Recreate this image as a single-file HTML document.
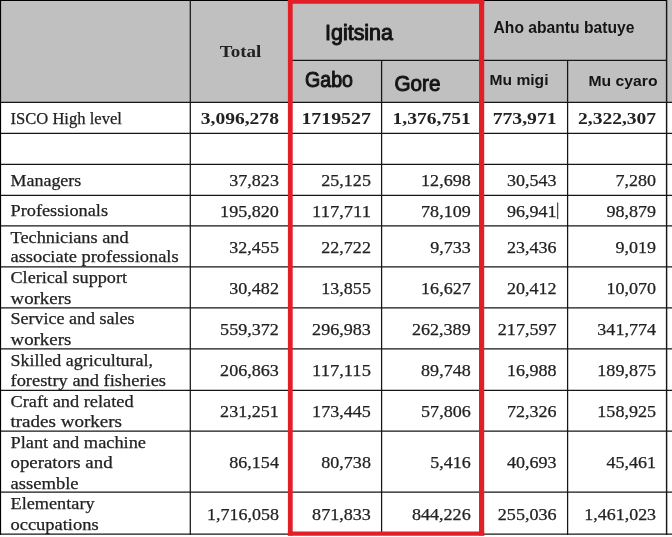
<!DOCTYPE html>
<html><head><meta charset="utf-8">
<style>
html,body{margin:0;padding:0;background:#fff;}
body{width:672px;height:537px;overflow:hidden;}
svg{display:block;}
text{fill:#222;}
.s{font-family:"Liberation Serif","DejaVu Serif",serif;font-size:16.5px;stroke:#222;stroke-width:0.25px;}
.sb{font-family:"Liberation Serif","DejaVu Serif",serif;font-size:16.5px;font-weight:bold;}
.hs{font-family:"Liberation Sans","DejaVu Sans",sans-serif;font-size:21.3px;stroke:#222;stroke-width:1px;stroke-linejoin:round;fill:#151515;stroke:#151515;}
.hv{font-family:"Liberation Sans","DejaVu Sans",sans-serif;font-size:15px;font-weight:bold;fill:#151515;}
</style></head><body>
<svg width="672" height="537" viewBox="0 0 672 537">
<rect x="0" y="0" width="672" height="102.3" fill="#c0c0c0"/>
<g stroke="#161616" stroke-width="1.25" fill="none">
<rect x="0" y="0" width="667" height="1" fill="#000" stroke="none"/>
<line x1="290" y1="60.3" x2="667" y2="60.3"/>
<line x1="0" y1="102.3" x2="672" y2="102.3"/>
<line x1="0" y1="133.3" x2="672" y2="133.3"/>
<line x1="0" y1="164.3" x2="672" y2="164.3"/>
<line x1="0" y1="195.4" x2="672" y2="195.4"/>
<line x1="0" y1="225.9" x2="672" y2="225.9"/>
<line x1="0" y1="266.8" x2="672" y2="266.8"/>
<line x1="0" y1="307.8" x2="672" y2="307.8"/>
<line x1="0" y1="348.8" x2="672" y2="348.8"/>
<line x1="0" y1="390.3" x2="672" y2="390.3"/>
<line x1="0" y1="431" x2="672" y2="431"/>
<line x1="0" y1="492" x2="672" y2="492"/>
<line x1="0" y1="534.2" x2="672" y2="534.2"/>
<rect x="0" y="0" width="1.1" height="534.9" fill="#000" stroke="none"/>
<line x1="190.3" y1="0" x2="190.3" y2="534.9"/>
<line x1="381.6" y1="60.3" x2="381.6" y2="534.9"/>
<line x1="567.6" y1="60.3" x2="567.6" y2="534.9"/>
<line x1="666.6" y1="0" x2="666.6" y2="534.9" stroke-width="1.45"/>
</g>
<g stroke="#e21f26" fill="none"><line x1="290.3" y1="0" x2="290.3" y2="535.6" stroke-width="4.8"/><line x1="481.6" y1="0" x2="481.6" y2="535.6" stroke-width="5.2"/><line x1="287.9" y1="1.9" x2="484.2" y2="1.9" stroke-width="3.9"/><line x1="287.9" y1="533.6" x2="484.2" y2="533.6" stroke-width="4.2"/></g>
<text x="219.7" y="57" class="sb" textLength="41.6" lengthAdjust="spacingAndGlyphs">Total</text>
<text x="325" y="39.7" class="hs" textLength="68" lengthAdjust="spacingAndGlyphs">Igitsina</text>
<text x="305" y="87.4" class="hs" textLength="48" lengthAdjust="spacingAndGlyphs">Gabo</text>
<text x="394.5" y="90.5" class="hs" textLength="46" lengthAdjust="spacingAndGlyphs">Gore</text>
<text x="493.5" y="32.6" class="hv" textLength="141" lengthAdjust="spacingAndGlyphs" style="font-size:15.9px">Aho abantu batuye</text>
<text x="489.5" y="84.9" class="hv" textLength="59" lengthAdjust="spacingAndGlyphs">Mu migi</text>
<text x="588.5" y="85.7" class="hv" textLength="69" lengthAdjust="spacingAndGlyphs">Mu cyaro</text>
<text x="10.5" y="123.6" class="s" textLength="111.39999999999999" lengthAdjust="spacingAndGlyphs">ISCO High level</text>
<text x="10.5" y="185.5" class="s" textLength="70.8" lengthAdjust="spacingAndGlyphs">Managers</text>
<text x="10.5" y="216.3" class="s" textLength="97.5" lengthAdjust="spacingAndGlyphs">Professionals</text>
<text x="10.5" y="242.7" class="s" textLength="118.1" lengthAdjust="spacingAndGlyphs">Technicians and</text>
<text x="10.5" y="262.3" class="s" textLength="168.10000000000002" lengthAdjust="spacingAndGlyphs">associate professionals</text>
<text x="10.5" y="283.3" class="s" textLength="116.5" lengthAdjust="spacingAndGlyphs">Clerical support</text>
<text x="10.5" y="303.5" class="s" textLength="60.8" lengthAdjust="spacingAndGlyphs">workers</text>
<text x="10.5" y="324.3" class="s" textLength="124.1" lengthAdjust="spacingAndGlyphs">Service and sales</text>
<text x="10.5" y="345" class="s" textLength="60.8" lengthAdjust="spacingAndGlyphs">workers</text>
<text x="10.5" y="365.7" class="s" textLength="142.5" lengthAdjust="spacingAndGlyphs">Skilled agricultural,</text>
<text x="10.5" y="385.9" class="s" textLength="155.5" lengthAdjust="spacingAndGlyphs">forestry and fisheries</text>
<text x="10.5" y="406.7" class="s" textLength="123.1" lengthAdjust="spacingAndGlyphs">Craft and related</text>
<text x="10.5" y="426.9" class="s" textLength="111.5" lengthAdjust="spacingAndGlyphs">trades workers</text>
<text x="10.5" y="447.7" class="s" textLength="135.5" lengthAdjust="spacingAndGlyphs">Plant and machine</text>
<text x="10.5" y="468.3" class="s" textLength="102.1" lengthAdjust="spacingAndGlyphs">operators and</text>
<text x="10.5" y="489.3" class="s" textLength="68.1" lengthAdjust="spacingAndGlyphs">assemble</text>
<text x="10.5" y="509.3" class="s" textLength="84.1" lengthAdjust="spacingAndGlyphs">Elementary</text>
<text x="10.5" y="529.5" class="s" textLength="88.1" lengthAdjust="spacingAndGlyphs">occupations</text>
<text x="278.9" y="124" class="sb" text-anchor="end" textLength="78.1" lengthAdjust="spacingAndGlyphs">3,096,278</text>
<text x="370.9" y="124" class="sb" text-anchor="end" textLength="69.5" lengthAdjust="spacingAndGlyphs">1719527</text>
<text x="470.7" y="124" class="sb" text-anchor="end" textLength="78.1" lengthAdjust="spacingAndGlyphs">1,376,751</text>
<text x="556.6" y="124" class="sb" text-anchor="end" textLength="63.9" lengthAdjust="spacingAndGlyphs">773,971</text>
<text x="656.1" y="124" class="sb" text-anchor="end" textLength="78.1" lengthAdjust="spacingAndGlyphs">2,322,307</text>
<text x="278.9" y="185.6" class="s" text-anchor="end" textLength="49.6" lengthAdjust="spacingAndGlyphs">37,823</text>
<text x="370.9" y="185.6" class="s" text-anchor="end" textLength="49.6" lengthAdjust="spacingAndGlyphs">25,125</text>
<text x="470.7" y="185.6" class="s" text-anchor="end" textLength="49.6" lengthAdjust="spacingAndGlyphs">12,698</text>
<text x="556.6" y="185.6" class="s" text-anchor="end" textLength="49.6" lengthAdjust="spacingAndGlyphs">30,543</text>
<text x="656.1" y="185.6" class="s" text-anchor="end" textLength="40.5" lengthAdjust="spacingAndGlyphs">7,280</text>
<text x="278.9" y="217" class="s" text-anchor="end" textLength="58.8" lengthAdjust="spacingAndGlyphs">195,820</text>
<text x="370.9" y="217" class="s" text-anchor="end" textLength="58.8" lengthAdjust="spacingAndGlyphs">117,711</text>
<text x="470.7" y="217" class="s" text-anchor="end" textLength="49.6" lengthAdjust="spacingAndGlyphs">78,109</text>
<text x="556.6" y="217" class="s" text-anchor="end" textLength="49.6" lengthAdjust="spacingAndGlyphs">96,941</text>
<text x="656.1" y="217" class="s" text-anchor="end" textLength="49.6" lengthAdjust="spacingAndGlyphs">98,879</text>
<text x="278.9" y="252.5" class="s" text-anchor="end" textLength="49.6" lengthAdjust="spacingAndGlyphs">32,455</text>
<text x="370.9" y="252.5" class="s" text-anchor="end" textLength="49.6" lengthAdjust="spacingAndGlyphs">22,722</text>
<text x="470.7" y="252.5" class="s" text-anchor="end" textLength="40.5" lengthAdjust="spacingAndGlyphs">9,733</text>
<text x="556.6" y="252.5" class="s" text-anchor="end" textLength="49.6" lengthAdjust="spacingAndGlyphs">23,436</text>
<text x="656.1" y="252.5" class="s" text-anchor="end" textLength="40.5" lengthAdjust="spacingAndGlyphs">9,019</text>
<text x="278.9" y="293.5" class="s" text-anchor="end" textLength="49.6" lengthAdjust="spacingAndGlyphs">30,482</text>
<text x="370.9" y="293.5" class="s" text-anchor="end" textLength="49.6" lengthAdjust="spacingAndGlyphs">13,855</text>
<text x="470.7" y="293.5" class="s" text-anchor="end" textLength="49.6" lengthAdjust="spacingAndGlyphs">16,627</text>
<text x="556.6" y="293.5" class="s" text-anchor="end" textLength="49.6" lengthAdjust="spacingAndGlyphs">20,412</text>
<text x="656.1" y="293.5" class="s" text-anchor="end" textLength="49.6" lengthAdjust="spacingAndGlyphs">10,070</text>
<text x="278.9" y="334.5" class="s" text-anchor="end" textLength="58.8" lengthAdjust="spacingAndGlyphs">559,372</text>
<text x="370.9" y="334.5" class="s" text-anchor="end" textLength="58.8" lengthAdjust="spacingAndGlyphs">296,983</text>
<text x="470.7" y="334.5" class="s" text-anchor="end" textLength="58.8" lengthAdjust="spacingAndGlyphs">262,389</text>
<text x="556.6" y="334.5" class="s" text-anchor="end" textLength="58.8" lengthAdjust="spacingAndGlyphs">217,597</text>
<text x="656.1" y="334.5" class="s" text-anchor="end" textLength="58.8" lengthAdjust="spacingAndGlyphs">341,774</text>
<text x="278.9" y="375.5" class="s" text-anchor="end" textLength="58.8" lengthAdjust="spacingAndGlyphs">206,863</text>
<text x="370.9" y="375.5" class="s" text-anchor="end" textLength="58.8" lengthAdjust="spacingAndGlyphs">117,115</text>
<text x="470.7" y="375.5" class="s" text-anchor="end" textLength="49.6" lengthAdjust="spacingAndGlyphs">89,748</text>
<text x="556.6" y="375.5" class="s" text-anchor="end" textLength="49.6" lengthAdjust="spacingAndGlyphs">16,988</text>
<text x="656.1" y="375.5" class="s" text-anchor="end" textLength="58.8" lengthAdjust="spacingAndGlyphs">189,875</text>
<text x="278.9" y="416.5" class="s" text-anchor="end" textLength="58.8" lengthAdjust="spacingAndGlyphs">231,251</text>
<text x="370.9" y="416.5" class="s" text-anchor="end" textLength="58.8" lengthAdjust="spacingAndGlyphs">173,445</text>
<text x="470.7" y="416.5" class="s" text-anchor="end" textLength="49.6" lengthAdjust="spacingAndGlyphs">57,806</text>
<text x="556.6" y="416.5" class="s" text-anchor="end" textLength="49.6" lengthAdjust="spacingAndGlyphs">72,326</text>
<text x="656.1" y="416.5" class="s" text-anchor="end" textLength="58.8" lengthAdjust="spacingAndGlyphs">158,925</text>
<text x="278.9" y="468" class="s" text-anchor="end" textLength="49.6" lengthAdjust="spacingAndGlyphs">86,154</text>
<text x="370.9" y="468" class="s" text-anchor="end" textLength="49.6" lengthAdjust="spacingAndGlyphs">80,738</text>
<text x="470.7" y="468" class="s" text-anchor="end" textLength="40.5" lengthAdjust="spacingAndGlyphs">5,416</text>
<text x="556.6" y="468" class="s" text-anchor="end" textLength="49.6" lengthAdjust="spacingAndGlyphs">40,693</text>
<text x="656.1" y="468" class="s" text-anchor="end" textLength="49.6" lengthAdjust="spacingAndGlyphs">45,461</text>
<text x="278.9" y="520" class="s" text-anchor="end" textLength="71.8" lengthAdjust="spacingAndGlyphs">1,716,058</text>
<text x="370.9" y="520" class="s" text-anchor="end" textLength="58.8" lengthAdjust="spacingAndGlyphs">871,833</text>
<text x="470.7" y="520" class="s" text-anchor="end" textLength="58.8" lengthAdjust="spacingAndGlyphs">844,226</text>
<text x="556.6" y="520" class="s" text-anchor="end" textLength="58.8" lengthAdjust="spacingAndGlyphs">255,036</text>
<text x="656.1" y="520" class="s" text-anchor="end" textLength="71.8" lengthAdjust="spacingAndGlyphs">1,461,023</text>
<line x1="557.7" y1="202.5" x2="557.7" y2="219" stroke="#222" stroke-width="1"/>
</svg>
</body></html>
